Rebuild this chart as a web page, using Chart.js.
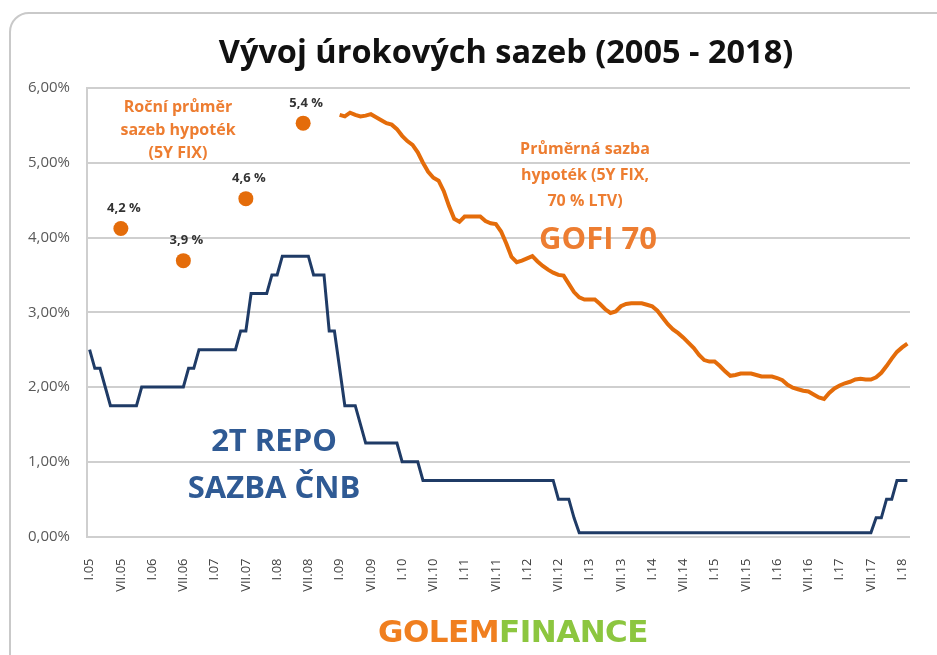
<!DOCTYPE html>
<html>
<head>
<meta charset="utf-8">
<script src="https://cdn.jsdelivr.net/npm/chart.js@4.4.1/dist/chart.umd.min.js"></script>
<style>
html, body { margin: 0; padding: 0; background: #fff; overflow: hidden; }
#wrap { position: relative; width: 937px; height: 655px; font-family: "Open Sans", sans-serif; }
#frame { position: absolute; left: 9px; top: 12px; width: 960px; height: 680px; border: 2px solid #c9c9c9; border-radius: 20px; box-sizing: border-box; }
canvas { position: absolute; left: 0; top: 0; }
.t { position: absolute; white-space: nowrap; transform: translate(-50%, -50%); font-weight: bold; text-align: center; }
</style>
</head>
<body>
<div id="wrap">
  <div id="frame"></div>
  <canvas id="myChart" width="937" height="655"></canvas>
  <div class="t" style="left:506px;top:50px;font-size:32.5px;color:#111;">Vývoj úrokových sazeb (2005 - 2018)</div>
  <div class="t" style="left:178px;top:129px;font-size:16px;line-height:23px;color:#ed7d31;">Roční průměr<br>sazeb hypoték<br>(5Y FIX)</div>
  <div class="t" style="left:585px;top:174px;font-size:16px;line-height:26px;color:#ed7d31;">Průměrná sazba<br>hypoték (5Y FIX,<br>70 % LTV)</div>
  <div class="t" style="left:598px;top:237px;font-size:31px;color:#ed7d31;">GOFI 70</div>
  <div class="t" style="left:274px;top:463px;font-size:31px;line-height:47px;color:#2f5a94;">2T REPO<br>SAZBA ČNB</div>
  <div class="t" style="left:513px;top:631px;font-size:31px;font-family:'DejaVu Sans',sans-serif;letter-spacing:-0.5px;"><span style="color:#f07f1f;">GOLEM</span><span style="color:#8cc63f;">FINANCE</span></div>
</div>
<script>
// osa X - měsíce I.05 až II.18
const monthNames = ["I", "II", "III", "IV", "V", "VI", "VII", "VIII", "IX", "X", "XI", "XII"];
const yearNames = ["05", "06", "07", "08", "09", "10", "11", "12", "13", "14", "15", "16", "17", "18"];
const monthCount = 158;

const yTickLabels = ["0,00%", "1,00%", "2,00%", "3,00%", "4,00%", "5,00%", "6,00%"];

// 2T repo sazba ČNB (měsíčně)
const repoRate = [
    2.5, 2.25, 2.25, 2.0, 1.75, 1.75, 1.75, 1.75, 1.75, 1.75, 2.0, 2.0,          // 2005
    2.0, 2.0, 2.0, 2.0, 2.0, 2.0, 2.0, 2.25, 2.25, 2.5, 2.5, 2.5,                // 2006
    2.5, 2.5, 2.5, 2.5, 2.5, 2.75, 2.75, 3.25, 3.25, 3.25, 3.25, 3.5,            // 2007
    3.5, 3.75, 3.75, 3.75, 3.75, 3.75, 3.75, 3.5, 3.5, 3.5, 2.75, 2.75,          // 2008
    2.25, 1.75, 1.75, 1.75, 1.5, 1.25, 1.25, 1.25, 1.25, 1.25, 1.25, 1.25,       // 2009
    1.0, 1.0, 1.0, 1.0, 0.75, 0.75, 0.75, 0.75, 0.75, 0.75, 0.75, 0.75,          // 2010
    0.75, 0.75, 0.75, 0.75, 0.75, 0.75, 0.75, 0.75, 0.75, 0.75, 0.75, 0.75,      // 2011
    0.75, 0.75, 0.75, 0.75, 0.75, 0.75, 0.5, 0.5, 0.5, 0.25, 0.05, 0.05,         // 2012
    0.05, 0.05, 0.05, 0.05, 0.05, 0.05, 0.05, 0.05, 0.05, 0.05, 0.05, 0.05,      // 2013
    0.05, 0.05, 0.05, 0.05, 0.05, 0.05, 0.05, 0.05, 0.05, 0.05, 0.05, 0.05,      // 2014
    0.05, 0.05, 0.05, 0.05, 0.05, 0.05, 0.05, 0.05, 0.05, 0.05, 0.05, 0.05,      // 2015
    0.05, 0.05, 0.05, 0.05, 0.05, 0.05, 0.05, 0.05, 0.05, 0.05, 0.05, 0.05,      // 2016
    0.05, 0.05, 0.05, 0.05, 0.05, 0.05, 0.05, 0.25, 0.25, 0.5, 0.5, 0.75,        // 2017
    0.75, 0.75                                                                   // 2018
];

// GOFI 70 - průměrná sazba hypoték (5Y FIX, 70 % LTV)
const gofi70 = [
    null, null, null, null, null, null, null, null, null, null, null, null,      // 2005
    null, null, null, null, null, null, null, null, null, null, null, null,      // 2006
    null, null, null, null, null, null, null, null, null, null, null, null,      // 2007
    null, null, null, null, null, null, null, null, null, null, null, null,      // 2008
    5.64, 5.62, 5.67, 5.64, 5.62, 5.63, 5.65, 5.61, 5.57, 5.53, 5.51, 5.45,      // 2009
    5.36, 5.29, 5.24, 5.14, 5.00, 4.88, 4.80, 4.76, 4.62, 4.42, 4.25, 4.21,      // 2010
    4.28, 4.28, 4.28, 4.28, 4.22, 4.19, 4.18, 4.08, 3.92, 3.74, 3.67, 3.69,      // 2011
    3.72, 3.75, 3.68, 3.62, 3.57, 3.53, 3.50, 3.49, 3.38, 3.27, 3.20, 3.17,      // 2012
    3.17, 3.17, 3.11, 3.04, 2.99, 3.01, 3.08, 3.11, 3.12, 3.12, 3.12, 3.10,      // 2013
    3.08, 3.02, 2.93, 2.84, 2.77, 2.72, 2.66, 2.59, 2.52, 2.43, 2.36, 2.34,      // 2014
    2.34, 2.28, 2.21, 2.15, 2.16, 2.18, 2.18, 2.18, 2.16, 2.14, 2.14, 2.14,      // 2015
    2.12, 2.09, 2.03, 1.99, 1.97, 1.95, 1.94, 1.90, 1.86, 1.84, 1.92, 1.98,      // 2016
    2.02, 2.05, 2.07, 2.10, 2.11, 2.10, 2.10, 2.13, 2.19, 2.28, 2.38, 2.47,      // 2017
    2.53, 2.58                                                                   // 2018
];

// roční průměr sazeb hypoték (5Y FIX) - body
const dotMonths = [6, 18, 30, 41];
const dotValues = [4.12, 3.69, 4.52, 5.53];
const dotLabels = ["4,2 %", "3,9 %", "4,6 %", "5,4 %"];

const categories = [];
yearNames.forEach((y) => {
    monthNames.forEach((m) => {
        if (categories.length < monthCount) categories.push(m + "." + y);
    });
});

const dots = categories.map(() => null);
dotMonths.forEach((m, i) => { dots[m] = dotValues[i]; });

const dotLabelPlugin = {
    id: "dotLabels",
    afterDatasetsDraw(chart) {
        const meta = chart.getDatasetMeta(2);
        const c = chart.ctx;
        c.save();
        c.font = "bold 13px 'Open Sans'";
        c.fillStyle = "#333";
        c.textAlign = "center";
        c.textBaseline = "middle";
        dotMonths.forEach((m, i) => {
            const p = meta.data[m];
            c.fillText(dotLabels[i], p.x + 3, p.y - 20);
        });
        c.restore();
    }
};

const ctx = document.getElementById("myChart").getContext("2d");
const myChart = new Chart(ctx, {
    type: "line",
    data: {
        labels: categories,
        datasets: [
            {
                label: "2T repo sazba ČNB",
                data: repoRate,
                borderColor: "#1f3b66",
                borderWidth: 3,
                pointRadius: 0,
                tension: 0,
            },
            {
                label: "GOFI 70",
                data: gofi70,
                borderColor: "#e46c0a",
                borderWidth: 4,
                pointRadius: 0,
                tension: 0,
            },
            {
                label: "Roční průměr sazeb hypoték",
                data: dots,
                showLine: false,
                pointRadius: 7.5,
                pointBackgroundColor: "#e46c0a",
                pointBorderWidth: 0,
            },
        ],
    },
    options: {
        responsive: false,
        animation: false,
        layout: { padding: { left: 0, right: 7, top: 88, bottom: 0 } },
        plugins: {
            legend: { display: false },
            tooltip: { enabled: false },
        },
        scales: {
            x: {
                offset: true,
                grid: { display: false },
                border: { display: true, color: "#cfcfcf", width: 2 },
                ticks: {
                    autoSkip: false,
                    minRotation: 90,
                    maxRotation: 90,
                    padding: 14,
                    color: "#404040",
                    font: { family: "Open Sans", size: 13 },
                    callback: (v, i) => (i % 6 === 0 ? categories[i] : ""),
                },
                afterFit: (s) => { s.height = 118.5; },
            },
            y: {
                min: 0,
                max: 6,
                grid: { color: "#cfcfcf", lineWidth: 2, drawTicks: false },
                border: { display: true, color: "#cfcfcf", width: 2 },
                ticks: {
                    stepSize: 1,
                    padding: 17,
                    color: "#595959",
                    font: { family: "Open Sans", size: 15 },
                    callback: (v, i) => yTickLabels[i],
                },
                afterFit: (s) => { s.width = 87; },
            },
        },
    },
    plugins: [dotLabelPlugin],
});
</script>
</body>
</html>
